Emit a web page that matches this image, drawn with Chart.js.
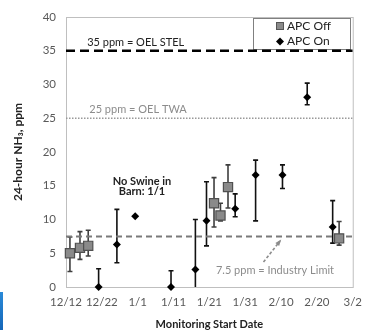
<!DOCTYPE html>
<html>
<head>
<meta charset="utf-8">
<script src="https://cdn.jsdelivr.net/npm/chart.js@4.4.1/dist/chart.umd.min.js"></script>
<style>
  html, body { margin: 0; padding: 0; background: #fff; }
  #wrap { position: relative; width: 366px; height: 331px; }
  #blue { position: absolute; left: 0; top: 292px; width: 3px; height: 38px; background: linear-gradient(#2a8ad8, #1566b8); }
</style>
</head>
<body>
<div id="wrap">
  <canvas id="grafico" width="366" height="331"></canvas>
  <div id="blue"></div>
</div>
<script>
// dias contados a partir de 12/12
const tickLabels = ["12/12", "12/22", "1/1", "1/11", "1/21", "1/31", "2/10", "2/20", "3/2"];

const offDays   = [1.1, 3.9, 6.2, 41.3, 43.1, 45.2, 76.2];
const offValues = [5.0, 5.8, 6.1, 12.4, 10.6, 14.8, 7.2];
const offLow    = [2.3, 4.1, 4.6, 8.9, 9.8, 11.7, 6.2];
const offHigh   = [7.4, 8.2, 8.4, 16.2, 12.4, 18.1, 9.7];

const onDays   = [9.1, 14.2, 19.3, 29.3, 36.1, 39.2, 47.2, 52.9, 60.4, 67.3, 74.4];
const onValues = [0, 6.3, 10.5, 0, 2.6, 9.8, 11.6, 16.6, 16.6, 28.1, 8.9];
const onLow    = [0, 3.6, 10.5, 0, 0, 6.1, 10.4, 9.8, 14.6, 27.0, 6.5];
const onHigh   = [2.7, 11.5, 10.5, 2.4, 10.0, 15.6, 13.8, 18.8, 18.1, 30.2, 12.8];

const limits = [35, 25, 7.5];

const FONT = "Lato, 'Open Sans', sans-serif";

const pts = (xs, ys) => xs.map((x, i) => ({ x: x, y: ys[i] }));
const hline = v => [{ x: 0, y: v }, { x: 80, y: v }];

// barras de erro
const errorBars = {
  id: "errorBars",
  beforeDatasetsDraw(chart) {
    const { ctx, scales: { x, y } } = chart;
    const sets = [
      { d: offDays, lo: offLow, hi: offHigh, c: "#3f3f3f" },
      { d: onDays, lo: onLow, hi: onHigh, c: "#111" }
    ];
    ctx.save();
    sets.forEach(s => {
      ctx.strokeStyle = s.c;
      ctx.lineWidth = 1.6;
      s.d.forEach((d, i) => {
        if (s.lo[i] === s.hi[i]) return;
        const px = x.getPixelForValue(d);
        const y1 = y.getPixelForValue(s.hi[i]);
        const y0 = y.getPixelForValue(s.lo[i]);
        ctx.beginPath();
        ctx.moveTo(px, y0); ctx.lineTo(px, y1);
        ctx.moveTo(px - 2.5, y1); ctx.lineTo(px + 2.5, y1);
        if (s.lo[i] > 0) { ctx.moveTo(px - 2.5, y0); ctx.lineTo(px + 2.5, y0); }
        ctx.stroke();
      });
    });
    ctx.restore();
  }
};

// moldura, legenda e anotações
const extras = {
  id: "extras",
  beforeDatasetsDraw(chart) {
    const { ctx, chartArea: a, scales: { x, y } } = chart;
    ctx.save();
    ctx.strokeStyle = "#bfbfbf";
    ctx.lineWidth = 1;
    ctx.strokeRect(a.left + 0.5, a.top + 0.5, a.right - a.left, a.bottom - a.top);

    // legenda
    ctx.fillStyle = "#fff";
    ctx.fillRect(253, 18, 97, 31);
    ctx.strokeStyle = "#808080";
    ctx.strokeRect(253.5, 18.5, 97, 31);
    ctx.font = "12px " + FONT;
    ctx.fillStyle = "#222";
    ctx.textBaseline = "middle";
    ctx.textAlign = "left";
    ctx.fillText(chart.data.datasets[0].label, 287, 26.5);
    ctx.fillText(chart.data.datasets[1].label, 287, 41.5);
    ctx.fillStyle = "#8a8a8a";
    ctx.strokeStyle = "#555";
    ctx.fillRect(276.5, 22.5, 7, 7);
    ctx.strokeRect(276.5, 22.5, 7, 7);
    ctx.fillStyle = "#000";
    ctx.beginPath();
    ctx.moveTo(280, 37.5); ctx.lineTo(284, 41.5); ctx.lineTo(280, 45.5); ctx.lineTo(276, 41.5);
    ctx.closePath(); ctx.fill();

    // textos
    ctx.font = "11px " + FONT;
    ctx.fillStyle = "#222";
    ctx.fillText("35 ppm = OEL STEL", x.getPixelForValue(5.9), y.getPixelForValue(36.2));
    ctx.fillStyle = "#8c8c8c";
    ctx.fillText("25 ppm = OEL TWA", x.getPixelForValue(6.5), y.getPixelForValue(26.3));
    ctx.textAlign = "center";
    ctx.fillText("7.5 ppm = Industry Limit", x.getPixelForValue(58.3), y.getPixelForValue(2.4));
    ctx.font = "bold 11px " + FONT;
    ctx.fillStyle = "#222";
    ctx.fillText("No Swine in", x.getPixelForValue(21.2), y.getPixelForValue(15.7));
    ctx.fillText("Barn: 1/1", x.getPixelForValue(21.2), y.getPixelForValue(14.1));

    // seta
    const ax0 = x.getPixelForValue(55.1), ay0 = y.getPixelForValue(3.7);
    const ax1 = x.getPixelForValue(59.7), ay1 = y.getPixelForValue(6.8);
    ctx.strokeStyle = "#8c8c8c";
    ctx.lineWidth = 1.6;
    ctx.setLineDash([3, 2]);
    ctx.beginPath(); ctx.moveTo(ax0, ay0); ctx.lineTo(ax1, ay1); ctx.stroke();
    ctx.setLineDash([]);
    const ang = Math.atan2(ay1 - ay0, ax1 - ax0);
    ctx.fillStyle = "#8c8c8c";
    ctx.beginPath();
    ctx.moveTo(ax1 + 2 * Math.cos(ang), ay1 + 2 * Math.sin(ang));
    ctx.lineTo(ax1 - 5 * Math.cos(ang - 0.5), ay1 - 5 * Math.sin(ang - 0.5));
    ctx.lineTo(ax1 - 5 * Math.cos(ang + 0.5), ay1 - 5 * Math.sin(ang + 0.5));
    ctx.closePath(); ctx.fill();
    ctx.restore();
  }
};

const ctx = document.getElementById("grafico").getContext("2d");

new Chart(ctx, {
  type: "scatter",
  data: {
    datasets: [
      {
        label: "APC Off",
        data: pts(offDays, offValues),
        pointStyle: "rect",
        pointRadius: 6.5,
        backgroundColor: "#8a8a8a",
        borderColor: "#505050",
        borderWidth: 1.2,
        clip: false,
        order: 1
      },
      {
        label: "APC On",
        data: pts(onDays, onValues),
        pointStyle: "rectRot",
        pointRadius: 4,
        backgroundColor: "#000",
        borderColor: "#000",
        borderWidth: 0,
        clip: false,
        order: 0
      },
      {
        label: "STEL",
        data: hline(limits[0]),
        showLine: true,
        pointRadius: 0,
        borderColor: "#000",
        borderWidth: 2.6,
        borderDash: [9, 5],
        order: 2
      },
      {
        label: "TWA",
        data: hline(limits[1]),
        showLine: true,
        pointRadius: 0,
        borderColor: "#999",
        borderWidth: 1.4,
        borderDash: [1.5, 1.5],
        order: 3
      },
      {
        label: "Industry",
        data: hline(limits[2]),
        showLine: true,
        pointRadius: 0,
        borderColor: "#7a7a7a",
        borderWidth: 2,
        borderDash: [6, 4],
        order: 3
      }
    ]
  },
  options: {
    responsive: false,
    animation: false,
    layout: { padding: { top: 17, right: 11, left: 0, bottom: 0 } },
    plugins: { legend: { display: false }, tooltip: { enabled: false } },
    scales: {
      x: {
        type: "linear",
        min: 0,
        max: 80,
        grid: { display: false, drawTicks: true, tickLength: 4, tickColor: "#bfbfbf" },
        border: { color: "#bfbfbf" },
        ticks: {
          stepSize: 10,
          color: "#595959",
          font: { family: FONT, size: 11.5 },
          padding: 4,
          maxRotation: 0,
          callback: (v) => tickLabels[v / 10]
        },
        title: {
          display: true,
          text: "Monitoring Start Date",
          color: "#222",
          font: { family: FONT, size: 11, weight: "bold" },
          padding: { top: 6, bottom: 0 }
        },
        afterFit: (s) => { s.height = 44; }
      },
      y: {
        min: 0,
        max: 40,
        grid: { display: false, drawTicks: true, tickLength: 4, tickColor: "#bfbfbf" },
        border: { color: "#bfbfbf" },
        ticks: {
          stepSize: 5,
          color: "#595959",
          font: { family: FONT, size: 11.5 },
          padding: 6
        },
        title: {
          display: true,
          text: "24-hour NH₃, ppm",
          color: "#222",
          font: { family: FONT, size: 12, weight: "bold" },
          padding: { top: 11, bottom: 0 }
        },
        afterFit: (s) => { s.width = 66; }
      }
    }
  },
  plugins: [extras, errorBars]
});
</script>
</body>
</html>
